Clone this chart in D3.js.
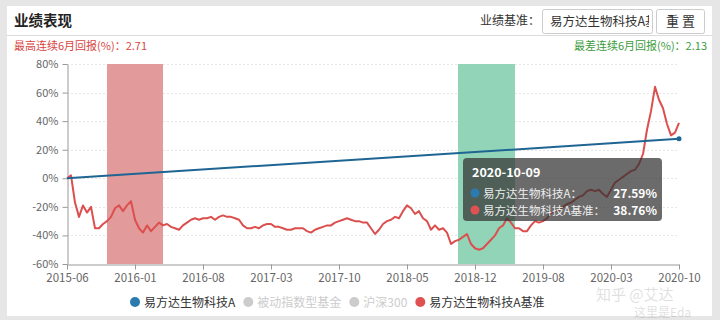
<!DOCTYPE html>
<html>
<head>
<meta charset="utf-8">
<script src="https://cdn.jsdelivr.net/npm/d3@7"></script>
<style>
  body { margin: 0; background: #e6e6e6; }
  svg { display: block; font-family: "Noto Sans CJK SC", "Microsoft YaHei", sans-serif; }
</style>
</head>
<body>
<svg id="chart" width="720" height="320"></svg>
<script>
// x axis labels (category axis, evenly spaced)
const tickLabels = ["2015-06", "2016-01", "2016-08", "2017-03", "2017-10", "2018-05", "2018-12", "2019-08", "2020-03", "2020-10"];
const yTicks = [-60, -40, -20, 0, 20, 40, 60, 80];

// 易方达生物科技A基准, sampled evenly from 2015-06 to 2020-10-09 (%)
const benchmarkValues = [
  0, 2, -17, -27, -19, -24, -20, -35, -35, -32,
  -30, -27, -21, -19, -23, -19, -16, -29, -35, -38,
  -33, -37, -34, -31, -33, -32, -34, -35, -36, -33,
  -31, -29, -28, -29, -28, -28, -27, -29, -27, -26,
  -27, -27, -28, -29, -33, -35, -35, -34, -35, -33,
  -32, -32, -34, -34, -35, -36, -36, -35, -35, -35,
  -37, -38, -36, -35, -34, -33, -33, -31, -30, -29,
  -28, -29, -30, -30, -31, -31, -35, -39, -36, -32,
  -30, -29, -27, -28, -23, -19, -21, -25, -23, -28,
  -30, -36, -33, -36, -35, -38, -46, -44, -43, -41,
  -39, -46, -49, -50, -49, -46, -43, -40, -35, -33,
  -28, -31, -35, -35, -37, -37, -33, -30, -31, -30,
  -28, -24, -23, -22, -20, -18, -17, -15, -13, -12,
  -9, -8, -9, -8, -11, -13, -8, -3, -1, 1,
  3, 5, 6, 10, 17, 34, 47, 64, 55, 49,
  38, 30, 32, 38.76
];
// 易方达生物科技A: first and last value (%)
const fundValues = [0, 27.59];

// highlighted 6-month windows, in sample index
const bestPeriod = [10, 24];
const worstPeriod = [97.75, 112];

const tooltipDate = "2020-10-09";
const tooltipRows = [
  { name: "易方达生物科技A：", value: "27.59%", color: "#2b7bb0" },
  { name: "易方达生物科技A基准：", value: "38.76%", color: "#e05252" }
];

const legendItems = [
  { name: "易方达生物科技A", color: "#2b7bb0", on: true },
  { name: "被动指数型基金", color: "#cccccc", on: false },
  { name: "沪深300", color: "#cccccc", on: false },
  { name: "易方达生物科技A基准", color: "#e05252", on: true }
];

const svg = d3.select("#chart");
const n = benchmarkValues.length;

// panel
svg.append("rect").attr("x", 7).attr("y", 6).attr("width", 705).attr("height", 310).attr("fill", "#fff");
svg.append("line").attr("x1", 7).attr("x2", 712).attr("y1", 35.5).attr("y2", 35.5).attr("stroke", "#dcdcdc");

svg.append("text").attr("x", 14).attr("y", 26).attr("font-size", 14.5).attr("font-weight", "bold")
  .attr("fill", "#222").text("业绩表现");

svg.append("text").attr("x", 540).attr("y", 25).attr("font-size", 12).attr("text-anchor", "end")
  .attr("fill", "#333").text("业绩基准：");
svg.append("rect").attr("x", 542.5).attr("y", 9.5).attr("width", 110).attr("height", 24).attr("rx", 2)
  .attr("fill", "#fff").attr("stroke", "#ccc");
svg.append("clipPath").attr("id", "inputClip").append("rect")
  .attr("x", 543).attr("y", 10).attr("width", 106).attr("height", 23);
svg.append("text").attr("x", 550).attr("y", 26).attr("font-size", 12.5).attr("fill", "#333")
  .attr("clip-path", "url(#inputClip)").text("易方达生物科技A基");
svg.append("rect").attr("x", 656.5).attr("y", 9.5).attr("width", 48).attr("height", 24).attr("rx", 2)
  .attr("fill", "#fff").attr("stroke", "#ccc");
svg.append("text").attr("x", 680.5).attr("y", 26).attr("font-size", 13).attr("text-anchor", "middle")
  .attr("fill", "#333").text("重 置");

svg.append("text").attr("x", 14).attr("y", 50).attr("font-size", 11).attr("fill", "#d9453f")
  .text("最高连续6月回报(%)：2.71");
svg.append("text").attr("x", 707).attr("y", 50).attr("font-size", 11).attr("fill", "#3d9b3d")
  .attr("text-anchor", "end").text("最差连续6月回报(%)：2.13");

// scales
const x = d3.scaleLinear().domain([0, n - 1]).range([67, 679]);
const y = d3.scaleLinear().domain([-60, 80]).range([264, 64]);

// grid
svg.append("g").selectAll("line").data(yTicks.filter(d => d > -60)).join("line")
  .attr("x1", 67).attr("x2", 679)
  .attr("y1", d => Math.round(y(d)) + 0.5).attr("y2", d => Math.round(y(d)) + 0.5)
  .attr("stroke", "#e6e6e6").attr("stroke-dasharray", "2,2");

// highlighted windows
svg.append("rect").attr("x", x(bestPeriod[0])).attr("y", y(80))
  .attr("width", x(bestPeriod[1]) - x(bestPeriod[0])).attr("height", y(-60) - y(80))
  .attr("fill", "#e39a9b");
svg.append("rect").attr("x", x(worstPeriod[0])).attr("y", y(80))
  .attr("width", x(worstPeriod[1]) - x(worstPeriod[0])).attr("height", y(-60) - y(80))
  .attr("fill", "#92d4b7");

// axes
const tickPos = tickLabels.map((d, i) => i * (n - 1) / (tickLabels.length - 1));
const xAxis = svg.append("g").attr("transform", "translate(0,264.5)")
  .call(d3.axisBottom(x).tickValues(tickPos).tickFormat((d, i) => tickLabels[i])
    .tickSize(5).tickPadding(4).tickSizeOuter(0));
const yAxis = svg.append("g").attr("transform", "translate(67.5,0)")
  .call(d3.axisLeft(y).tickValues(yTicks).tickFormat(d => d + "%").tickSize(5).tickSizeOuter(0));
[xAxis, yAxis].forEach(g => {
  g.select(".domain").attr("stroke", "#999");
  g.selectAll(".tick line").attr("stroke", "#999");
  g.selectAll(".tick text").attr("fill", "#666").attr("font-size", 11.5)
    .attr("font-family", "\"Noto Sans CJK SC\", sans-serif");
});
xAxis.selectAll(".tick text").attr("dy", "0.7em");
yAxis.selectAll(".tick text").attr("dx", "-0.1em").attr("font-size", 11);

// lines
const line = d3.line().x(d => x(d[0])).y(d => y(d[1]));
svg.append("path").datum(benchmarkValues.map((v, i) => [i, v]))
  .attr("d", line).attr("fill", "none").attr("stroke", "#db4f4f").attr("stroke-width", 2)
  .attr("stroke-linejoin", "round");
svg.append("path").datum([[0, fundValues[0]], [n - 1, fundValues[1]]])
  .attr("d", line).attr("fill", "none").attr("stroke", "#1f6593").attr("stroke-width", 2);
svg.append("circle").attr("cx", x(n - 1)).attr("cy", y(fundValues[1])).attr("r", 2.5).attr("fill", "#1f6593");

// tooltip
const tip = svg.append("g").attr("transform", "translate(463,158)");
tip.append("rect").attr("width", 199).attr("height", 63).attr("rx", 4).attr("fill", "rgba(50,50,50,0.72)");
tip.append("text").attr("x", 9).attr("y", 19).attr("font-size", 12.5).attr("font-weight", "bold")
  .attr("fill", "#fff").text(tooltipDate);
tooltipRows.forEach((r, i) => {
  const ty = 35 + i * 17;
  tip.append("circle").attr("cx", 12).attr("cy", ty).attr("r", 4.5).attr("fill", r.color);
  tip.append("text").attr("x", 20).attr("y", ty + 4.5).attr("font-size", 11.5).attr("fill", "#eee").text(r.name);
  tip.append("text").attr("x", 194).attr("y", ty + 4.5).attr("font-size", 12).attr("font-weight", "bold")
    .attr("text-anchor", "end").attr("fill", "#fff").text(r.value);
});

// legend
let lx = 135;
legendItems.forEach(item => {
  svg.append("circle").attr("cx", lx).attr("cy", 302).attr("r", 5).attr("fill", item.color);
  const t = svg.append("text").attr("x", lx + 9).attr("y", 306.5).attr("font-size", 12)
    .attr("fill", item.on ? "#333" : "#ccc").text(item.name);
  lx += 9 + t.node().getComputedTextLength() + 13;
});

// watermark
svg.append("text").attr("x", 596).attr("y", 300).attr("font-size", 15).attr("fill", "#000")
  .attr("opacity", 0.12).text("知乎 @艾达");
svg.append("text").attr("x", 634).attr("y", 317).attr("font-size", 12).attr("fill", "#000")
  .attr("opacity", 0.12).text("这里是Eda");
</script>
</body>
</html>
